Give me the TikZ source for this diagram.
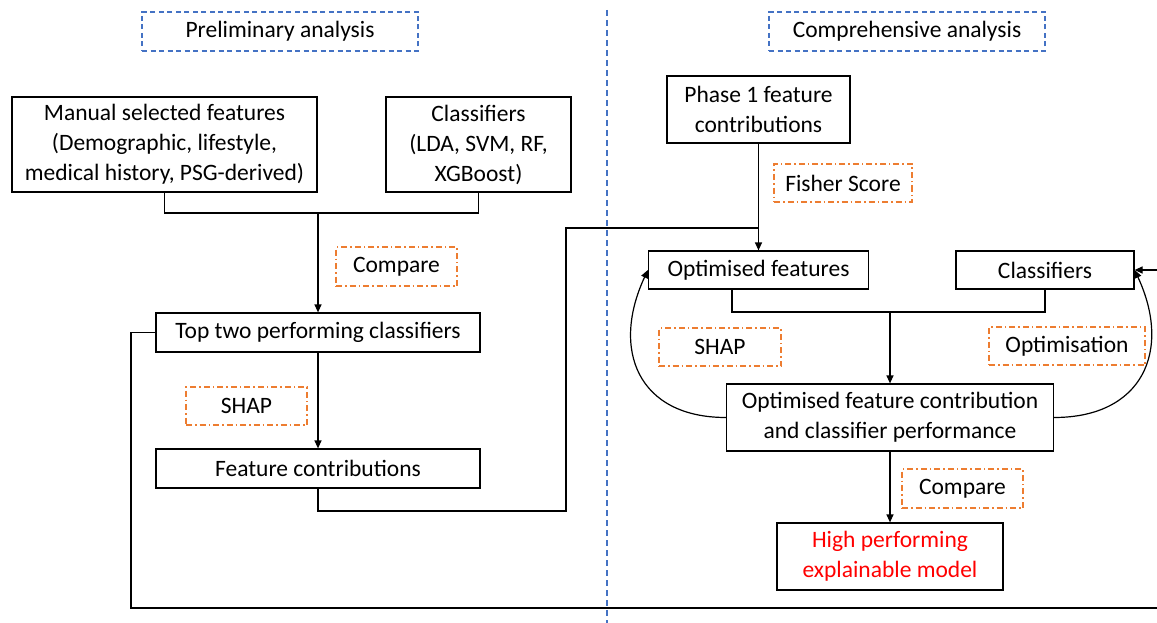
\documentclass[tikz,border=0pt]{standalone}
\usepackage{fontspec}
\setmainfont{Carlito}
\usetikzlibrary{arrows.meta}
\definecolor{guideblue}{HTML}{4472C4}
\definecolor{steporange}{HTML}{ED7D31}
\definecolor{resultred}{HTML}{FF0000}

\begin{document}
\begin{tikzpicture}[x=1pt,y=-1pt,
  txt/.style={align=center, inner sep=0pt, font=\fontsize{23.5}{30}\selectfont},
  wh/.style 2 args={minimum width=#1pt, minimum height=#2pt},
  box/.style={txt, draw=black, line width=1.2pt},
  phasebox/.style={txt, draw=guideblue, line width=1.2pt, dash pattern=on 5pt off 3.5pt},
  method/.style={txt, draw=steporange, line width=1.2pt, dash pattern=on 6pt off 3pt on 1.5pt off 3pt},
  link/.style={line width=1.2pt, draw=black},
  arrowlink/.style={link, -{Triangle[length=8pt,width=7pt]}},
  divider/.style={draw=guideblue, line width=1.2pt, dash pattern=on 6pt off 4pt}
]
\useasboundingbox (0,0) rectangle (1157,623);
\clip (0,0) rectangle (1157,623);

% divider between the two phases
\coordinate (divtop) at (607,10);
\coordinate (divbot) at (607,623);
\draw[divider] (divtop) -- (divbot);

% phase headings
\node[phasebox, wh={276}{39}] (prelim) at (280,31.5) {Preliminary analysis};
\node[phasebox, wh={276}{39}] (compre) at (907,31.5) {Comprehensive analysis};

% preliminary analysis
\node[box, wh={305}{95}] (manual) at (164.5,144.5) {Manual selected features\\(Demographic, lifestyle,\\medical history, PSG-derived)};
\node[box, wh={185}{95}] (clfa) at (478.5,144.5) {Classifiers\\(LDA, SVM, RF,\\XGBoost)};
\node[method, wh={121}{39}] (cmpa) at (396.5,266.5) {Compare};
\node[box, wh={324}{39}] (top2) at (318,332.5) {Top two performing classifiers};
\node[method, wh={121}{38}] (shapa) at (246.5,406) {SHAP};
\node[box, wh={324}{39}] (featc) at (318,468.5) {Feature contributions};

% comprehensive analysis
\node[box, wh={183}{67}] (phase1) at (758.5,109.5) {Phase 1 feature\\contributions};
\node[method, wh={138}{38}] (fisher) at (843,183) {Fisher Score};
\node[box, wh={220}{38}] (optf) at (758.5,270) {Optimised features};
\node[box, wh={178}{38}] (clfb) at (1045,270) {Classifiers};
\node[method, wh={122}{38}] (shapb) at (720,347) {SHAP};
\node[method, wh={156}{38}] (optim) at (1067,346) {Optimisation};
\node[box, wh={327}{67}] (ofc) at (890,417.5) {Optimised feature contribution\\and classifier performance};
\node[method, wh={121}{39}] (cmpb) at (962.5,488.5) {Compare};
\node[box, wh={226}{67}, text=resultred] (high) at (890,556.5) {High performing\\explainable model};

% junctions and bends
\coordinate (ja) at (318,213);
\coordinate (bendfc) at (566,511);
\coordinate (jp) at (758.5,228);
\coordinate (jb) at (890,312);
\coordinate (loopl) at (131,608);
\coordinate (loopr) at (1175,608);

% preliminary connectors
\draw[link] (manual.south) |- (ja) -| (clfa.south);
\draw[arrowlink] (ja) -- (top2.north);
\draw[arrowlink] (top2.south) -- (featc.north);
\draw[link] (featc.south) |- (bendfc) |- (jp);
\draw[arrowlink] (phase1.south) -- (optf.north);
\draw[arrowlink] (top2.west) -| (loopl) -- (loopr) |- (clfb.east);

% comprehensive connectors
\draw[link] ([xshift=-26.5pt]optf.south) |- (jb) -| (clfb.south);
\draw[arrowlink] (jb) -- (ofc.north);
\draw[arrowlink] (ofc.south) -- (high.north);
\draw[arrowlink] (ofc.west) to[out=180, in=245, looseness=1.35] (optf.west);
\draw[arrowlink] (ofc.east) to[out=0, in=-65, looseness=1.35] (clfb.east);
\end{tikzpicture}
\end{document}
